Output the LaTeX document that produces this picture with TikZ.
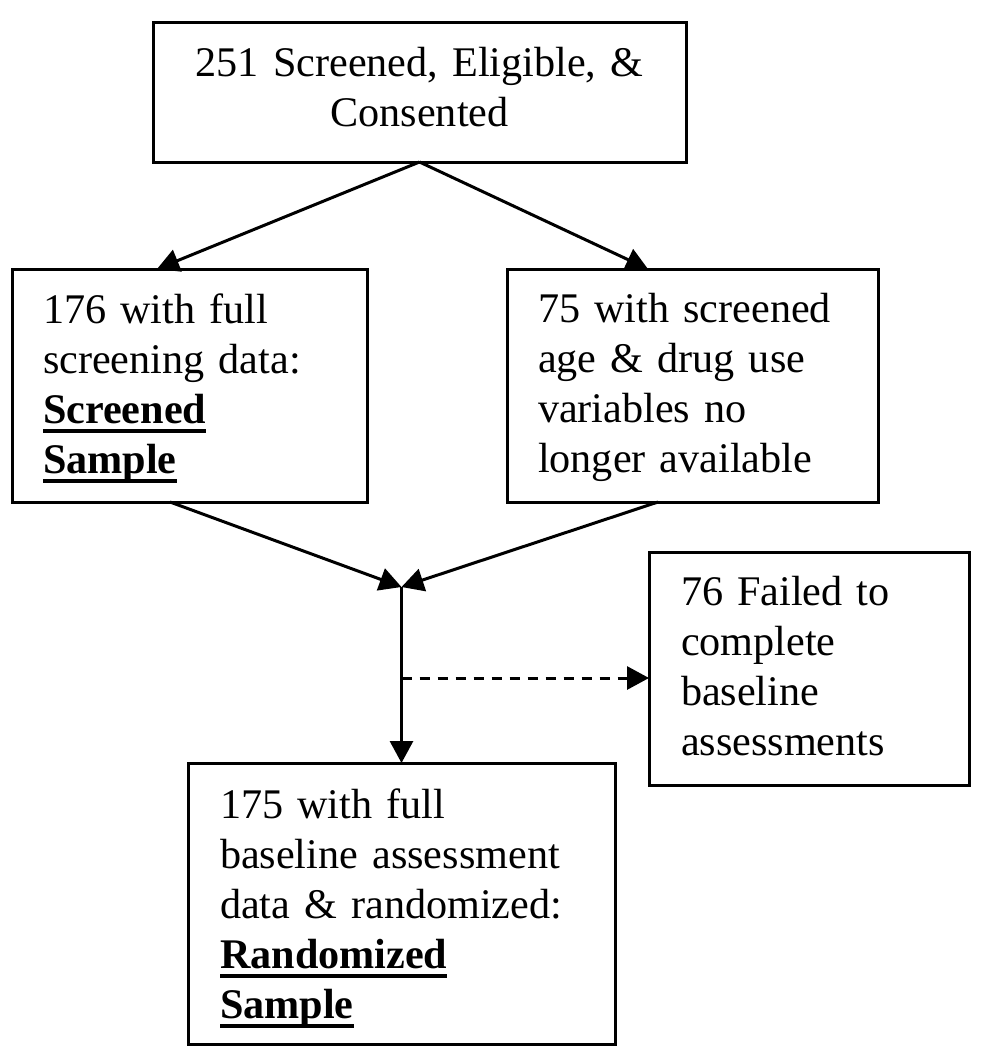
\documentclass[tikz,border=0pt]{standalone}
\usepackage{fontspec}
\setmainfont{Liberation Serif}
\usetikzlibrary{arrows.meta}
\newcommand\ulbf[1]{\leavevmode\setbox0\hbox{\bfseries #1}\rlap{\rule[-10pt]{\wd0}{4pt}}\box0}
\tikzset{
  box/.style={draw, line width=3pt, rectangle, inner sep=0pt, outer sep=0pt},
  txt/.style={font=\fontsize{42.2}{50}\selectfont, inner sep=0pt, outer sep=0pt, text width=#1, align=left, anchor=base west},
  txt/.default=420pt,
  arr/.style={line width=3pt, -{Triangle[length=22pt,width=23pt]}},
}
\begin{document}
\begin{tikzpicture}[x=1pt, y=-1pt]
\useasboundingbox (0,0) rectangle (986,1050);
% boxes
\node[box, minimum width=533pt, minimum height=140pt] (top) at (419.5,92) {};
\node[box, minimum width=355pt, minimum height=233pt] (left) at (189.5,385.5) {};
\node[box, minimum width=371pt, minimum height=233pt] (right) at (692.5,385.5) {};
\node[box, minimum width=320pt, minimum height=233pt] (fail) at (809,668.5) {};
\node[box, minimum width=427pt, minimum height=281pt] (bottom) at (401.5,903.5) {};
% texts
\node[txt=520pt, align=center, anchor=base] (toptxt) at (419.5,76) {251 Screened, Eligible, \&\\Consented};
\node[txt] (lefttxt) at (43,323) {176 with full\\screening data:\\\ulbf{Screened}\\\ulbf{Sample}};
\node[txt] (righttxt) at (538,322) {75 with screened\\age \& drug use\\variables no\\longer available};
\node[txt] (failtxt) at (681,605) {76 Failed to\\complete\\baseline\\assessments};
\node[txt] (bottomtxt) at (220,818) {175 with full\\baseline assessment\\data \& randomized:\\\ulbf{Randomized}\\\ulbf{Sample}};
% connectors
\coordinate (j) at (401.5,587);
\coordinate (d) at (401.5,678);
\draw[arr] (top.south) -- ([xshift=145pt]left.north west);
\draw[arr] (top.south) -- ([xshift=141pt]right.north west);
\draw[arr] ([xshift=158pt]left.south west) -- (j);
\draw[arr] ([xshift=151pt]right.south west) -- (j);
\draw[arr] (j) -- (bottom.north);
\draw[arr, dash pattern=on 10pt off 8pt] (d) -- (d -| fail.west);
\end{tikzpicture}
\end{document}
